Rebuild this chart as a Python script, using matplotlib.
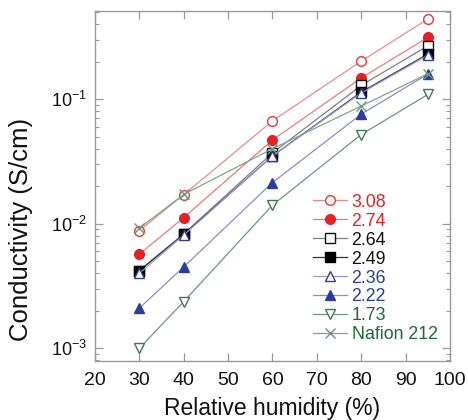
import matplotlib
matplotlib.use("Agg")
import matplotlib.pyplot as plt
from matplotlib.ticker import LogLocator, FixedLocator

plt.rcParams['font.family'] = ['Liberation Sans', 'DejaVu Sans']
plt.rcParams['mathtext.fontset'] = 'custom'
plt.rcParams['mathtext.rm'] = 'Liberation Sans'
plt.rcParams['mathtext.it'] = 'Liberation Sans'
plt.rcParams['mathtext.bf'] = 'Liberation Sans'

rh = [30, 40, 60, 80, 95]
labels = ['3.08', '2.74', '2.64', '2.49', '2.36', '2.22', '1.73', 'Nafion 212']
s308 = [0.0088, 0.0171, 0.067, 0.202, 0.44]
s274 = [0.0057, 0.0112, 0.047, 0.148, 0.313]
s264 = [0.0042, 0.0083, 0.037, 0.129, 0.268]
s249 = [0.0042, 0.0082, 0.035, 0.114, 0.230]
s236 = [0.0040, 0.0081, 0.035, 0.112, 0.225]
s222 = [0.0021, 0.0045, 0.0214, 0.0757, 0.159]
s173 = [0.0010, 0.00237, 0.0141, 0.052, 0.109]
nafion = [0.0092, 0.0172, 0.040, 0.088, 0.160]

series = [s308, s274, s264, s249, s236, s222, s173, nafion]
styles = [
    dict(color='#f08a8a', marker='o', mfc='white', mec='#e8383a'),
    dict(color='#f07878', marker='o', mfc='#e32228', mec='#e32228'),
    dict(color='#808080', marker='s', mfc='white', mec='#111111'),
    dict(color='#333333', marker='s', mfc='black', mec='black'),
    dict(color='#9a9ada', marker='^', mfc='white', mec='#2e3d9a'),
    dict(color='#8c8cd0', marker='^', mfc='#2e3d9a', mec='#2e3d9a'),
    dict(color='#6a9a78', marker='v', mfc='white', mec='#3d7a50'),
    dict(color='#7fa890', marker='x', mfc='none', mec='#6a9a78'),
]
text_colors = ['#e32228', '#e32228', '#111111', '#111111', '#2e3d9a', '#2e3d9a', '#1e6b30', '#1e6b30']

fig = plt.figure(figsize=(4.68, 4.2), dpi=100)
ax = fig.add_axes([95/468, 1-361/420, 355/468, 350/420])

for vals, lab, st in zip(series, labels, styles):
    ax.plot(rh, vals, label=lab, lw=0.9, ms=7, mew=1.0, **st)

ax.set_yscale('log')
ax.set_xlim(20, 100)
ax.set_ylim(7.9e-4, 0.51)
ax.xaxis.set_major_locator(FixedLocator([20, 30, 40, 50, 60, 70, 80, 90, 100]))
ax.yaxis.set_major_locator(LogLocator(base=10, numticks=10))
ax.yaxis.set_minor_locator(LogLocator(base=10, subs=range(2, 10), numticks=20))

for sp in ax.spines.values():
    sp.set_color('#999999')
    sp.set_linewidth(1.0)
ax.tick_params(which='both', direction='in', top=True, right=True, colors='#999999',
               labelcolor='#111111')
ax.tick_params(which='major', length=6, width=0.9)
ax.tick_params(which='minor', length=3, width=0.8)
ax.tick_params(axis='x', pad=8, labelsize=14)
ax.tick_params(axis='y', pad=6, labelsize=13)

ax.set_xlabel('Relative humidity (%)', fontsize=16.5, color='#111111', labelpad=6)
ax.set_ylabel('Conductivity (S/cm)', fontsize=18.5, color='#111111')
ax.yaxis.set_label_coords(-0.175, 0.375)

leg = ax.legend(loc='upper left', bbox_to_anchor=(0.615, 0.478), frameon=False,
                fontsize=12.8, handlelength=1.9, handletextpad=0.25,
                labelspacing=0.11, borderpad=0, borderaxespad=0)
for t, c in zip(leg.get_texts(), text_colors):
    t.set_color(c)

fig.savefig('out.png', dpi=100)
